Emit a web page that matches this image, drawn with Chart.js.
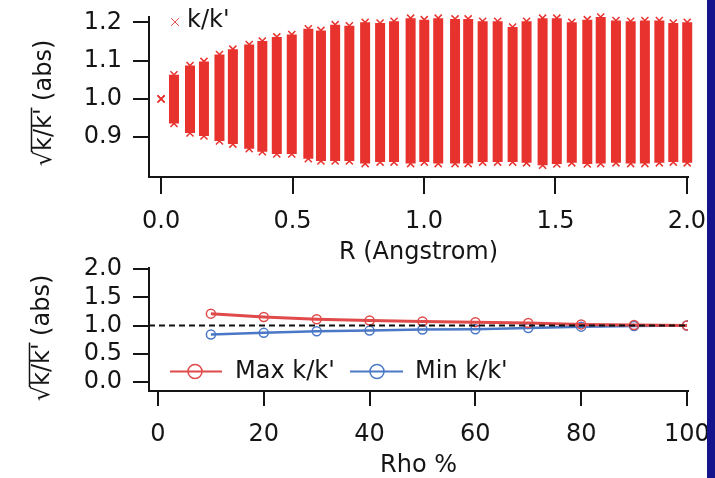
<!DOCTYPE html>
<html>
<head>
<meta charset="utf-8">
<script src="https://cdn.jsdelivr.net/npm/chart.js@4.4.1/dist/chart.umd.min.js"></script>
<style>
  html, body { margin: 0; padding: 0; background: #fff; overflow: hidden; }
  #wrap { position: relative; width: 715px; height: 478px; overflow: hidden; }
  #topBox { position: absolute; left: 0; top: 0; width: 740px; height: 270px; }
  #botBox { position: absolute; left: 0; top: 240px; width: 740px; height: 238px; }
  #edge { position: absolute; left: 707px; top: 0; width: 8px; height: 478px; background: #14148c; }
</style>
</head>
<body>
<div id="wrap">
  <div id="topBox"><canvas id="topChart"></canvas></div>
  <div id="botBox"><canvas id="botChart"></canvas></div>
  <div id="edge"></div>
</div>
<script>
// top panel: spread of k/k' at each R (min / max of each band)
const bandR = [0, 0.049, 0.110, 0.163, 0.222, 0.273, 0.335, 0.385, 0.440, 0.497, 0.560, 0.608,
  0.662, 0.716, 0.776, 0.833, 0.886, 0.949, 1.001, 1.054, 1.118, 1.168, 1.223, 1.280,
  1.337, 1.390, 1.451, 1.505, 1.562, 1.621, 1.672, 1.730, 1.786, 1.840, 1.895, 1.948, 2.001]
const bandMax = [1.0, 1.063, 1.087, 1.098, 1.116, 1.130, 1.142, 1.151, 1.162, 1.168, 1.183, 1.179,
  1.194, 1.191, 1.200, 1.198, 1.203, 1.211, 1.207, 1.211, 1.209, 1.209, 1.203, 1.203,
  1.188, 1.203, 1.211, 1.211, 1.200, 1.207, 1.214, 1.205, 1.203, 1.205, 1.205, 1.198, 1.200]
const bandMin = [1.0, 0.936, 0.911, 0.903, 0.890, 0.882, 0.870, 0.862, 0.856, 0.856, 0.844, 0.838,
  0.838, 0.838, 0.831, 0.835, 0.835, 0.831, 0.835, 0.831, 0.831, 0.831, 0.835, 0.835,
  0.835, 0.833, 0.827, 0.830, 0.833, 0.830, 0.831, 0.833, 0.831, 0.831, 0.833, 0.835, 0.833]
const rTicks = [0, 0.5, 1.0, 1.5, 2.0]
const topYTicks = [0.9, 1.0, 1.1, 1.2]

// bottom panel: max / min vs Rho %
const rho = [10, 20, 30, 40, 50, 60, 70, 80, 90, 100]
const maxK = [1.21, 1.15, 1.11, 1.09, 1.07, 1.06, 1.045, 1.02, 1.01, 1.0]
const minK = [0.84, 0.87, 0.90, 0.91, 0.93, 0.935, 0.955, 0.98, 0.99, 1.0]
const rhoTicks = [0, 20, 40, 60, 80, 100]
const botYTicks = [0, 0.5, 1.0, 1.5, 2.0]
const refLevel = 1.0

const FONT = "'DejaVu Sans', sans-serif"
const FS = 24
const INK = '#151515'
const RED = '#e8322d'
const LRED = '#e04a4a'
const BLUE = '#4a78c6'

Chart.defaults.font.family = FONT

function axis(tickLen, tickPad, tickVals, fmt) {
  return {
    type: 'linear',
    border: { display: true, color: INK, width: 2 },
    grid: { drawOnChartArea: false, drawTicks: true, tickLength: tickLen, tickWidth: 2, lineWidth: 2, tickColor: INK },
    ticks: { color: INK, font: { size: FS }, padding: tickPad, autoSkip: false, maxRotation: 0, callback: fmt },
    afterBuildTicks: s => { s.ticks = tickVals.map(v => ({ value: v })) }
  }
}

// y title: sqrt sign with a bar over k/k'
function rootTitle(cx, cy) {
  return {
    id: 'rootTitle',
    afterDraw(chart) {
      const ctx = chart.ctx
      ctx.save()
      ctx.translate(cx, cy)
      ctx.rotate(-Math.PI / 2)
      ctx.font = FS + 'px ' + FONT
      ctx.fillStyle = INK
      ctx.textBaseline = 'middle'
      const a = '\u221A', b = "k/k'", c = ' (abs)'
      const wa = ctx.measureText(a).width
      const wb = ctx.measureText(b).width
      const wc = ctx.measureText(c).width
      const x0 = -(wa + wb + wc) / 2
      ctx.fillText(a, x0, 0)
      ctx.fillText(b, x0 + wa, 0)
      ctx.fillText(c, x0 + wa + wb, 0)
      ctx.strokeStyle = INK
      ctx.lineWidth = 1.5
      ctx.beginPath()
      ctx.moveTo(x0 + wa - 1, -13.5)
      ctx.lineTo(x0 + wa + wb + 1, -13.5)
      ctx.stroke()
      ctx.restore()
    }
  }
}

const bandLine = []
const bandEnds = []
bandR.forEach((r, i) => {
  bandLine.push({ x: r, y: bandMin[i] }, { x: r, y: bandMax[i] }, { x: r, y: null })
  bandEnds.push({ x: r, y: bandMin[i] }, { x: r, y: bandMax[i] })
})

const topLegend = {
  id: 'topLegend',
  afterDraw(chart) {
    const ctx = chart.ctx
    ctx.save()
    ctx.strokeStyle = '#e85050'
    Chart.helpers.drawPoint(ctx, { pointStyle: 'crossRot', radius: 5.5, borderWidth: 1.5 }, 175, 22)
    ctx.font = FS + 'px ' + FONT
    ctx.fillStyle = INK
    ctx.textBaseline = 'middle'
    ctx.fillText("k/k'", 187, 21)
    ctx.restore()
  }
}

const topXAxis = axis(17, 13, rTicks, v => v.toFixed(1))
topXAxis.min = -0.046
topXAxis.max = 2.004
topXAxis.title = { display: true, text: 'R (Angstrom)', color: INK, font: { size: FS, lineHeight: 1 }, padding: { top: 0, bottom: 5 } }
topXAxis.afterFit = s => { s.height = 93; s.paddingLeft = 0; s.paddingRight = 0 }

const topYAxis = axis(16, 11, topYTicks, v => v.toFixed(1))
topYAxis.min = 0.796
topYAxis.max = 1.214
topYAxis.afterFit = s => { s.width = 149; s.paddingTop = 0; s.paddingBottom = 0 }

new Chart(document.getElementById('topChart'), {
  type: 'scatter',
  data: {
    datasets: [
      { label: 'band', data: bandLine, showLine: true, borderColor: RED, borderWidth: 10,
        borderCapStyle: 'butt', pointRadius: 0, spanGaps: false, clip: 8 },
      { label: "k/k'", data: bandEnds, showLine: false, pointStyle: 'crossRot', pointRadius: 5,
        borderColor: RED, pointBorderWidth: 1.5, clip: 8 }
    ]
  },
  options: {
    responsive: true, maintainAspectRatio: false, animation: false,
    layout: { padding: { left: 0, right: 52, top: 17, bottom: 0 } },
    plugins: { legend: { display: false }, tooltip: { enabled: false } },
    scales: { x: topXAxis, y: topYAxis }
  },
  plugins: [rootTitle(45, 103), topLegend]
})

const refLine = {
  id: 'refLine',
  afterDatasetsDraw(chart) {
    const ctx = chart.ctx
    const area = chart.chartArea
    const y = chart.scales.y.getPixelForValue(refLevel)
    ctx.save()
    ctx.strokeStyle = '#111'
    ctx.lineWidth = 2
    ctx.setLineDash([6, 4])
    ctx.beginPath()
    ctx.moveTo(area.left, y)
    ctx.lineTo(area.right, y)
    ctx.stroke()
    ctx.restore()
  }
}

const botLegend = {
  id: 'botLegend',
  afterDraw(chart) {
    const ctx = chart.ctx
    const items = [
      { text: "Max k/k'", color: LRED, x1: 170, x2: 222, cx: 195, tx: 235 },
      { text: "Min k/k'", color: BLUE, x1: 350, x2: 403, cx: 377, tx: 415 }
    ]
    const y = 131.5
    ctx.save()
    items.forEach(it => {
      ctx.strokeStyle = it.color
      ctx.lineWidth = 2
      ctx.beginPath()
      ctx.moveTo(it.x1, y)
      ctx.lineTo(it.x2, y)
      ctx.stroke()
      ctx.fillStyle = 'rgba(255,255,255,0)'
      ctx.lineWidth = 1.5
      Chart.helpers.drawPoint(ctx, { pointStyle: 'circle', radius: 7, borderWidth: 1.5 }, it.cx, y)
      ctx.fillStyle = INK
      ctx.font = FS + 'px ' + FONT
      ctx.textBaseline = 'middle'
      ctx.fillText(it.text, it.tx, y)
    })
    ctx.restore()
  }
}

const botXAxis = axis(15, 14, rhoTicks, v => String(v))
botXAxis.min = -1.7
botXAxis.max = 100.2
botXAxis.title = { display: true, text: 'Rho %', color: INK, font: { size: FS, lineHeight: 1 }, padding: { top: 0, bottom: 0 } }
botXAxis.afterFit = s => { s.height = 87; s.paddingLeft = 0; s.paddingRight = 0 }

const botYAxis = axis(16, 11, botYTicks, v => v.toFixed(1))
botYAxis.min = -0.159
botYAxis.max = 2.018
botYAxis.afterFit = s => { s.width = 149; s.paddingTop = 0; s.paddingBottom = 0 }

new Chart(document.getElementById('botChart'), {
  type: 'line',
  data: {
    datasets: [
      { label: "Max k/k'", data: rho.map((r, i) => ({ x: r, y: maxK[i] })), borderColor: LRED,
        borderWidth: 3, pointStyle: 'circle', pointRadius: 4.5, pointBorderWidth: 1.5,
        pointBackgroundColor: 'rgba(255,255,255,0)', pointBorderColor: LRED },
      { label: "Min k/k'", data: rho.map((r, i) => ({ x: r, y: minK[i] })), borderColor: BLUE,
        borderWidth: 2.5, pointStyle: 'circle', pointRadius: 4.5, pointBorderWidth: 1.5,
        pointBackgroundColor: 'rgba(255,255,255,0)', pointBorderColor: BLUE }
    ]
  },
  options: {
    responsive: true, maintainAspectRatio: false, animation: false,
    layout: { padding: { left: 0, right: 52, top: 28, bottom: 0 } },
    plugins: { legend: { display: false }, tooltip: { enabled: false } },
    scales: { x: botXAxis, y: botYAxis }
  },
  plugins: [refLine, rootTitle(43, 98), botLegend]
})
</script>
</body>
</html>
